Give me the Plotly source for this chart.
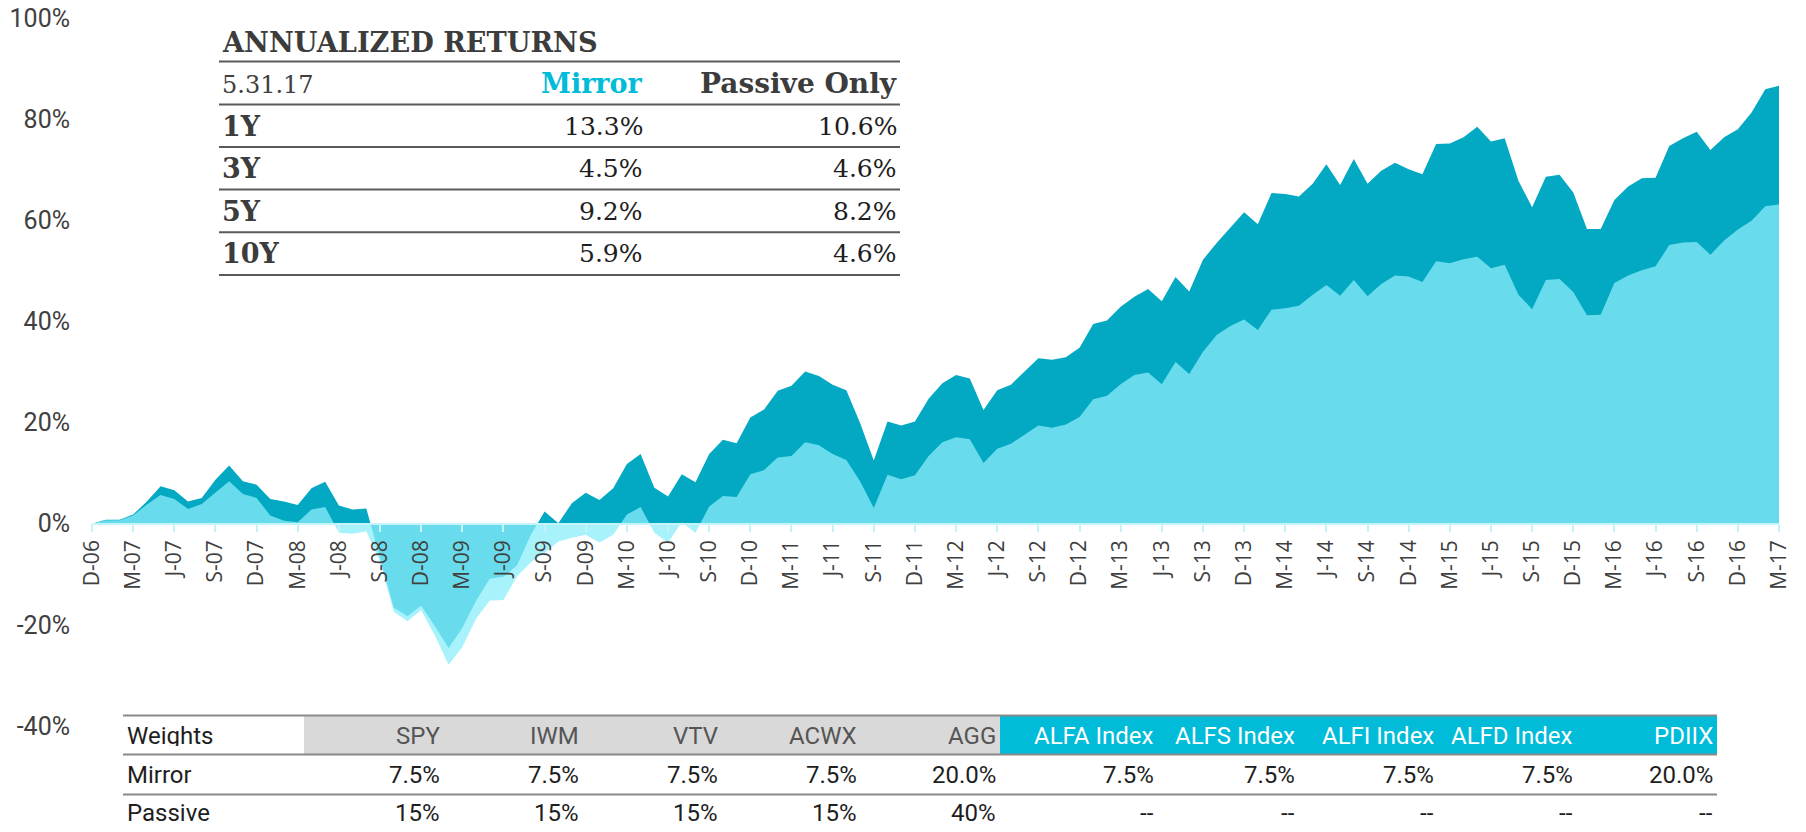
import plotly.graph_objects as go
import pandas as pd

# ---------------- data ----------------
months = [d.strftime("%Y-%m") for d in pd.date_range("2006-12-01", periods=124, freq="MS")]

mirror = [0, 0.8, 0.8, 1.8, 4.4, 7.4, 6.6, 4.4, 5.1, 8.7, 11.5, 8.4, 7.7, 4.9, 4.4, 3.7,
          7.0, 8.3, 3.6, 2.8, 3.0, -6.8, -16.6, -18.3, -16.2, -20.3, -24.6, -20.6, -15.3,
          -10.9, -10.5, -8.2, -2.2, 2.4, 0.1, 4.1, 6.1, 4.7, 7.0, 11.8, 13.8, 7.1, 5.4, 9.8,
          8.2, 13.8, 16.6, 15.9, 21.0, 22.6, 26.3, 27.3, 30.1, 29.2, 27.5, 26.4, 19.9, 12.5,
          20.2, 19.4, 20.2, 24.7, 27.8, 29.4, 28.7, 22.5, 26.4, 27.5, 30.1, 32.7, 32.4, 32.9,
          34.8, 39.5, 40.2, 42.9, 44.9, 46.4, 44.0, 48.8, 45.9, 52.2, 55.5, 58.6, 61.6, 59.2,
          65.4, 65.2, 64.7, 67.2, 71.1, 67.0, 72.1, 67.2, 69.8, 71.4, 70.1, 69.1, 75.1, 75.2,
          76.4, 78.5, 75.6, 76.2, 67.8, 62.6, 68.6, 69.0, 65.5, 58.3, 58.3, 64.0, 66.7, 68.3,
          68.4, 74.7, 76.2, 77.5, 73.9, 76.4, 78.0, 81.3, 85.9, 86.6]

passive = [0, 0.7, 0.7, 1.6, 3.8, 5.7, 4.9, 2.9, 3.9, 6.2, 8.4, 5.9, 5.1, 1.6, 0.6, 0.3,
           2.8, 3.3, -1.8, -2.0, -1.5, -7.5, -17.4, -19.3, -17.1, -22.1, -27.9, -24.4, -18.8,
           -15.2, -15.1, -10.4, -7.6, -5.8, -3.5, -2.8, -2.2, -3.7, -2.2, 1.8, 3.3, -1.8, -3.7,
           0.3, -1.8, 3.4, 5.5, 5.3, 9.8, 10.6, 13.1, 13.4, 16.1, 15.5, 13.8, 12.6, 8.4, 3.1,
           9.7, 8.8, 9.6, 13.4, 16.1, 17.1, 16.7, 12.0, 14.8, 15.8, 17.6, 19.4, 19.0, 19.6,
           21.1, 24.6, 25.3, 27.6, 29.4, 29.9, 27.6, 32.0, 29.6, 34.0, 37.3, 39.1, 40.4, 38.3,
           42.3, 42.6, 43.1, 45.3, 47.2, 45.1, 48.2, 45.0, 47.4, 49.1, 48.9, 47.8, 51.9, 51.5,
           52.3, 52.8, 50.5, 51.2, 45.3, 42.4, 48.2, 48.4, 45.8, 41.2, 41.3, 47.6, 49.1, 50.1,
           50.9, 55.1, 55.6, 55.7, 53.2, 56.0, 58.2, 59.9, 62.8, 63.1]

tick_labels = ["D-06", "M-07", "J-07", "S-07", "D-07", "M-08", "J-08", "S-08", "D-08", "M-09",
               "J-09", "S-09", "D-09", "M-10", "J-10", "S-10", "D-10", "M-11", "J-11", "S-11",
               "D-11", "M-12", "J-12", "S-12", "D-12", "M-13", "J-13", "S-13", "D-13", "M-14",
               "J-14", "S-14", "D-14", "M-15", "J-15", "S-15", "D-15", "M-16", "J-16", "S-16",
               "D-16", "M-17"]
tick_positions = months[::3]

y_ticks = [-40, -20, 0, 20, 40, 60, 80, 100]

# annualized returns table
ret_periods = ["1Y", "3Y", "5Y", "10Y"]
ret_mirror = ["13.3%", "4.5%", "9.2%", "5.9%"]
ret_passive = ["10.6%", "4.6%", "8.2%", "4.6%"]
ret_date = "5.31.17"

# weights table
w_tickers = ["SPY", "IWM", "VTV", "ACWX", "AGG", "ALFA Index", "ALFS Index", "ALFI Index",
             "ALFD Index", "PDIIX"]
w_mirror = ["7.5%", "7.5%", "7.5%", "7.5%", "20.0%", "7.5%", "7.5%", "7.5%", "7.5%", "20.0%"]
w_passive = ["15%", "15%", "15%", "15%", "40%", "--", "--", "--", "--", "--"]

# ---------------- styles ----------------
DARK = "#03A9C3"
LIGHT = "rgba(139,238,250,0.75)"
AXIS_PALE = "#C4F3FA"
CYAN_HDR = "#00BCD8"
GRAY_TXT = "#404040"
SLAB = "DejaVu Serif"
SANS = "Roboto"

# page has an 8px body margin: figure is drawn at (8, 8) of the 1806x832 window
OFF = 8
W, H = 1806 - 2 * OFF, 832 - 2 * OFF
# plot area in window pixels
PL, PR, PT, PB = 92, 1779, 18.4, 726.4


def px(x):
    return (x - PL) / (PR - PL)


def py(y):
    return (PB - y) / (PB - PT)


fig = go.Figure()
fig.add_trace(go.Scatter(x=months, y=mirror, mode="lines", line=dict(width=0, color=DARK),
                         fill="tozeroy", fillcolor=DARK, name="Mirror", hoverinfo="skip"))
fig.add_trace(go.Scatter(x=months, y=passive, mode="lines", line=dict(width=0, color=LIGHT),
                         fill="tozeroy", fillcolor=LIGHT, name="Passive", hoverinfo="skip"))

annotations = []
shapes = []


def text(x, y, s, size, color, family, anchor="left", bold=False, box_h=None):
    if bold:
        s = "<b>" + s + "</b>"
    ann = dict(x=px(x), y=py(y), xref="paper", yref="paper", text=s,
               showarrow=False, xanchor=anchor, yanchor="middle",
               borderpad=0, font=dict(size=size, color=color, family=family))
    if box_h is not None:
        ann["height"] = box_h
        ann["valign"] = "middle"
    annotations.append(ann)


def hline(x0, x1, y, color, width):
    shapes.append(dict(type="line", xref="paper", yref="paper", x0=px(x0), x1=px(x1),
                       y0=py(y), y1=py(y), line=dict(color=color, width=width)))


def rect(x0, x1, y0, y1, color):
    shapes.append(dict(type="rect", xref="paper", yref="paper", x0=px(x0), x1=px(x1),
                       y0=py(y1), y1=py(y0), fillcolor=color, line=dict(width=0), layer="below"))


# ---- annualized returns table ----
t_left, t_right = 219, 900
col_m, col_p = 644, 898
text(221, 42, "ANNUALIZED RETURNS", 27.2, "#3c3c3c", SLAB, bold=True)
line_ys = [62, 104.8, 147.4, 190, 232.7, 275.3]
for ly in line_ys:
    hline(t_left, t_right, ly, "#5a5a5a", 2)
text(221, 85, ret_date, 24, GRAY_TXT, SLAB)
text(col_m, 84, "Mirror", 27, "#00BCD9", SLAB, anchor="right", bold=True)
text(col_p, 84, "Passive Only", 28, "#3c3c3c", SLAB, anchor="right", bold=True)
for k, per in enumerate(ret_periods):
    yc = 126.5 + 42.6 * k
    text(221, yc, per, 27, "#3c3c3c", SLAB, bold=True)
    text(col_m, yc, ret_mirror[k], 25, "#1e1e1e", SLAB, anchor="right")
    text(col_p, yc, ret_passive[k], 25, "#1e1e1e", SLAB, anchor="right")

# ---- weights table ----
wl, wr = 123, 1717
col_right = [441, 580, 719, 858, 997, 1155, 1296, 1435, 1574, 1714]
rect(304, 1000, 716, 755, "#D9D9D9")
rect(1000, 1717, 716, 755, CYAN_HDR)
hline(wl, wr, 716, "#8a8a8a", 2)
hline(wl, wr, 755, "#8a8a8a", 2)
hline(wl, wr, 795, "#8a8a8a", 2)
FS = 24
BH = 20
text(126, 736, "Weights", FS, "#1e1e1e", SANS, box_h=BH)
text(126, 775, "Mirror", FS, "#1e1e1e", SANS, box_h=BH)
text(126, 813, "Passive", FS, "#1e1e1e", SANS, box_h=BH)
for k, tk in enumerate(w_tickers):
    hdr_color = "#555555" if k < 5 else "#ffffff"
    text(col_right[k], 736, tk, FS, hdr_color, SANS, anchor="right", box_h=BH)
    text(col_right[k], 775, w_mirror[k], FS, "#1e1e1e", SANS, anchor="right", box_h=BH)
    text(col_right[k], 813, w_passive[k], FS, "#1e1e1e", SANS, anchor="right", box_h=BH)

fig.update_layout(
    width=W, height=H,
    margin=dict(l=PL - OFF, r=W - (PR - OFF), t=PT - OFF, b=H - (PB - OFF), pad=0),
    paper_bgcolor="white", plot_bgcolor="white",
    showlegend=False,
    annotations=annotations,
    shapes=shapes,
    xaxis=dict(type="category", range=[0, len(months) - 1], tickmode="array",
               tickvals=tick_positions, ticktext=tick_labels, tickangle=-90,
               anchor="free", position=40 / 140, showline=True, linecolor=AXIS_PALE,
               linewidth=2, ticks="outside", ticklen=7, tickwidth=2, tickcolor=AXIS_PALE,
               showgrid=False, zeroline=False, automargin=False,
               tickfont=dict(family="Open Sans", size=21, color=GRAY_TXT)),
    yaxis=dict(range=[-40, 100], tickmode="array", tickvals=y_ticks,
               ticktext=[f"{v}%" for v in y_ticks], showgrid=False, zeroline=False,
               showline=False, ticks="", ticklabelstandoff=21, automargin=False,
               ticklabeloverflow="allow",
               tickfont=dict(family=SANS, size=25, color=GRAY_TXT)),
)

fig.write_html("out.html")
